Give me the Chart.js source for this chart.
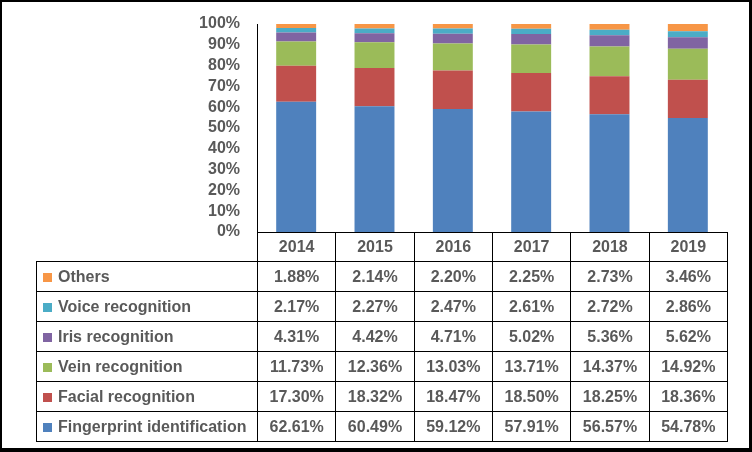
<!DOCTYPE html>
<html lang="en">
<head>
    <meta charset="UTF-8">
    <title>Biometric Technology Market Share</title>
    <script src="https://cdn.jsdelivr.net/npm/chart.js"></script>
    <style>
        body {
            margin: 0;
            font-family: "Liberation Sans", Arial, sans-serif;
        }
        #wrap {
            position: relative;
            width: 752px;
            height: 452px;
            background: #fff;
            overflow: hidden;
        }
        #frame {
            position: absolute;
            left: 0; top: 0;
            width: 752px; height: 452px;
            box-sizing: border-box;
            border-style: solid;
            border-color: #000;
            border-width: 2px 3px 4px 2px;
            pointer-events: none;
        }
        #dataTable {
            position: absolute;
            border-collapse: separate;
            border-spacing: 0;
            table-layout: fixed;
            font-size: 16px;
            font-weight: bold;
            color: #595959;
        }
        #dataTable td {
            box-sizing: border-box;
            height: 30px;
            padding: 0;
            border-right: 1px solid #000;
            border-bottom: 1px solid #000;
            text-align: center;
            white-space: nowrap;
            overflow: hidden;
        }
        #dataTable td.name {
            text-align: left;
            border-left: 1px solid #000;
            padding-left: 6px;
        }
        #dataTable tr.head td {
            height: 29px;
        }
        #dataTable tr.head td.blank {
            border-left: none;
        }
        .swatch {
            display: inline-block;
            width: 9px;
            height: 9px;
            margin-right: 6px;
            vertical-align: 0px;
        }
    </style>
</head>
<body>

<div id="wrap">
    <canvas id="shareChart"></canvas>
    <table id="dataTable"></table>
    <div id="frame"></div>
</div>

<script>
    // chart data (percent of total per year)
    const years = ['2014', '2015', '2016', '2017', '2018', '2019'];
    const fingerprint = [62.61, 60.49, 59.12, 57.91, 56.57, 54.78];
    const facial = [17.30, 18.32, 18.47, 18.50, 18.25, 18.36];
    const vein = [11.73, 12.36, 13.03, 13.71, 14.37, 14.92];
    const iris = [4.31, 4.42, 4.71, 5.02, 5.36, 5.62];
    const voice = [2.17, 2.27, 2.47, 2.61, 2.72, 2.86];
    const others = [1.88, 2.14, 2.20, 2.25, 2.73, 3.46];
    const yTicks = [0, 10, 20, 30, 40, 50, 60, 70, 80, 90, 100];

    const series = [
        { label: 'Fingerprint identification', data: fingerprint, color: '#4F81BD' },
        { label: 'Facial recognition', data: facial, color: '#C0504D' },
        { label: 'Vein recognition', data: vein, color: '#9BBB59' },
        { label: 'Iris recognition', data: iris, color: '#8064A2' },
        { label: 'Voice recognition', data: voice, color: '#4BACC6' },
        { label: 'Others', data: others, color: '#F79646' }
    ];

    const ctx = document.getElementById('shareChart').getContext('2d');
    const chart = new Chart(ctx, {
        type: 'bar',
        data: {
            labels: years,
            datasets: series.map(s => ({
                label: s.label,
                data: s.data,
                backgroundColor: s.color,
                borderWidth: 0,
                categoryPercentage: 1,
                barPercentage: 0.51
            }))
        },
        options: {
            responsive: true,
            maintainAspectRatio: false,
            animation: false,
            layout: {
                padding: { left: 0, top: 24, right: 25, bottom: 220 }
            },
            plugins: {
                legend: { display: false },
                tooltip: { enabled: false }
            },
            scales: {
                x: {
                    stacked: true,
                    grid: { display: false, drawTicks: false },
                    border: { display: true, color: '#000', width: 1 },
                    ticks: { display: false },
                    afterFit: scale => { scale.height = 0; }
                },
                y: {
                    stacked: true,
                    min: 0,
                    max: 100,
                    grid: { display: false, drawTicks: false },
                    border: { display: true, color: '#000', width: 1 },
                    afterBuildTicks: scale => {
                        scale.ticks = yTicks.map(v => ({ value: v }));
                    },
                    afterFit: scale => {
                        scale.width = 257;
                        scale.paddingTop = 0;
                        scale.paddingBottom = 0;
                    },
                    ticks: {
                        autoSkip: false,
                        padding: 17,
                        color: '#595959',
                        font: { family: '"Liberation Sans", Arial, sans-serif', size: 16, weight: 'bold' },
                        callback: v => v + '%'
                    }
                }
            }
        }
    });

    // data table under the plot, columns follow the x scale
    function buildTable() {
        const area = chart.chartArea;
        const xs = chart.scales.x;
        const tableLeft = 36;
        const colW = (xs.right - xs.left) / years.length;
        const table = document.getElementById('dataTable');
        table.style.left = tableLeft + 'px';
        table.style.top = (Math.round(area.bottom) + 1) + 'px';

        let html = '<colgroup><col style="width:' + (Math.round(area.left) + 1 - tableLeft) + 'px">';
        years.forEach(() => { html += '<col style="width:' + colW + 'px">'; });
        html += '</colgroup>';

        html += '<tr class="head"><td class="blank"></td>';
        years.forEach(y => { html += '<td>' + y + '</td>'; });
        html += '</tr>';

        series.slice().reverse().forEach(s => {
            html += '<tr><td class="name"><span class="swatch" style="background:' + s.color + '"></span>' + s.label + '</td>';
            s.data.forEach(v => { html += '<td>' + v.toFixed(2) + '%</td>'; });
            html += '</tr>';
        });
        table.innerHTML = html;
        table.style.width = (Math.round(area.left) + 1 - tableLeft + colW * years.length) + 'px';
    }
    buildTable();
</script>

</body>
</html>
